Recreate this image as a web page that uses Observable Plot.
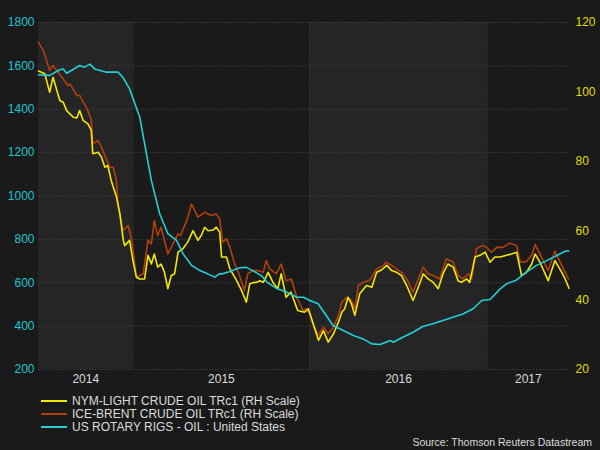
<!DOCTYPE html>
<html><head><meta charset="utf-8">
<script src="https://cdn.jsdelivr.net/npm/d3@7"></script>
<script src="https://cdn.jsdelivr.net/npm/@observablehq/plot@0.6"></script>
<style>
html,body{margin:0;padding:0;background:#1a1a1a;}
body{width:600px;height:450px;overflow:hidden;position:relative;font-family:"Liberation Sans",Arial,sans-serif;}
#legend{position:absolute;left:41px;top:394px;}
.row{height:13px;display:flex;align-items:center;font-size:12px;color:#dcdcdc;white-space:nowrap;}
.sw{width:26px;height:2px;margin-right:5px;}
#source{position:absolute;right:8px;top:436px;font-size:10.5px;color:#dcdcdc;}
</style></head><body>
<div id="chart"></div>
<div id="legend"></div>
<div id="source">Source: Thomson Reuters Datastream</div>
<script>
// ---- data ----
const seriesNames = ["NYM-LIGHT CRUDE OIL TRc1 (RH Scale)", "ICE-BRENT CRUDE OIL TRc1 (RH Scale)", "US ROTARY RIGS - OIL : United States"];
const seriesColors = ["#f2e800", "#b0400e", "#22d0d8"];

const rigDates = ["2014-06-20","2014-07-13","2014-08-03","2014-08-10","2014-08-17","2014-09-13","2014-09-23","2014-10-04","2014-10-14","2014-11-07","2014-12-01","2014-12-11","2014-12-25","2015-01-15","2015-02-08","2015-02-25","2015-03-14","2015-04-01","2015-04-14","2015-05-02","2015-05-19","2015-06-04","2015-06-19","2015-06-28","2015-07-05","2015-07-20","2015-08-09","2015-08-23","2015-09-05","2015-09-23","2015-10-05","2015-10-26","2015-11-15","2015-12-05","2015-12-19","2016-01-01","2016-01-18","2016-02-04","2016-02-18","2016-03-10","2016-03-31","2016-04-20","2016-05-08","2016-05-25","2016-06-15","2016-06-21","2016-07-11","2016-08-01","2016-08-21","2016-09-11","2016-10-02","2016-10-22","2016-11-12","2016-12-03","2016-12-21","2017-01-07","2017-01-28","2017-02-10","2017-03-03","2017-03-23","2017-04-13","2017-05-04","2017-05-25","2017-06-11","2017-06-18"];
const rigCounts = [1559,1556,1582,1586,1566,1602,1594,1608,1586,1571,1571,1548,1494,1363,1071,919,826,795,735,680,656,641,626,641,641,652,669,671,656,633,602,572,556,533,533,518,503,449,403,380,357,341,318,315,334,326,349,372,398,411,426,441,456,480,518,523,572,595,613,649,680,702,726,745,747];

const wtiDates = ["2014-06-20","2014-07-03","2014-07-13","2014-07-20","2014-08-03","2014-08-10","2014-08-17","2014-08-31","2014-09-07","2014-09-13","2014-09-20","2014-09-30","2014-10-07","2014-10-10","2014-10-21","2014-10-28","2014-11-04","2014-11-10","2014-11-17","2014-11-28","2014-12-05","2014-12-12","2014-12-15","2014-12-25","2015-01-01","2015-01-08","2015-01-15","2015-01-25","2015-02-01","2015-02-08","2015-02-14","2015-02-21","2015-02-28","2015-03-07","2015-03-14","2015-03-21","2015-03-28","2015-04-04","2015-04-14","2015-04-24","2015-05-05","2015-05-15","2015-05-22","2015-05-29","2015-06-05","2015-06-15","2015-06-22","2015-06-29","2015-07-03","2015-07-13","2015-07-20","2015-08-03","2015-08-13","2015-08-23","2015-08-30","2015-09-08","2015-09-13","2015-09-20","2015-09-27","2015-10-07","2015-10-17","2015-10-27","2015-11-03","2015-11-13","2015-11-23","2015-12-07","2015-12-21","2015-12-29","2016-01-09","2016-01-19","2016-01-29","2016-02-08","2016-02-19","2016-02-29","2016-03-07","2016-03-13","2016-03-20","2016-03-27","2016-04-03","2016-04-13","2016-04-27","2016-05-08","2016-05-18","2016-05-28","2016-06-08","2016-06-18","2016-06-28","2016-07-08","2016-07-19","2016-08-01","2016-08-12","2016-08-22","2016-09-01","2016-09-12","2016-09-22","2016-10-02","2016-10-12","2016-10-23","2016-11-02","2016-11-09","2016-11-20","2016-11-26","2016-12-07","2016-12-17","2016-12-28","2017-01-07","2017-01-17","2017-01-28","2017-02-10","2017-02-20","2017-03-03","2017-03-13","2017-03-23","2017-04-03","2017-04-10","2017-04-20","2017-05-07","2017-05-21","2017-06-04","2017-06-11","2017-06-19"];
const wtiPrices = [106,105.2,99.9,104.2,97.5,97,94.6,92.7,92.5,94.6,91.8,90.8,88.9,82.2,82.6,81.2,78.3,78.8,74.5,69.7,64.9,57.2,55.7,57.2,51.4,46.6,46.1,46.1,52.9,50.4,53.3,49.5,50.4,48,43.3,47.1,47.6,53.8,54.8,56.7,60,57.2,58.6,61,60,60.2,61,59.6,52.4,52.4,49,45.6,42.8,39.4,44.7,45.1,45.1,45.6,45.1,48,45.1,43.3,47.6,40.8,42.3,37,36.5,37.5,32.7,28.4,31.2,27.9,30.3,33.6,36.5,37.5,40.8,38.9,35.6,41.8,44.2,43.7,48,48.7,50,48.5,48,47.1,44.2,39.9,43.7,47.6,46.1,45.1,43.3,47.6,50.4,49.5,45.6,45.1,46.1,45.1,52.4,52.9,53.8,50.9,52.4,52.4,52.9,53.3,53.8,47.1,48,50.4,53.3,50.9,45.6,51.4,48,46.1,43.4];

const brentDates = ["2014-06-20","2014-06-30","2014-07-13","2014-07-20","2014-08-10","2014-08-20","2014-08-24","2014-09-07","2014-09-13","2014-09-30","2014-10-07","2014-10-10","2014-10-21","2014-10-28","2014-11-07","2014-11-14","2014-11-21","2014-11-28","2014-12-01","2014-12-11","2014-12-22","2014-12-29","2015-01-08","2015-01-22","2015-02-01","2015-02-08","2015-02-14","2015-02-21","2015-02-28","2015-03-14","2015-03-21","2015-04-04","2015-04-09","2015-04-22","2015-05-02","2015-05-15","2015-05-29","2015-06-11","2015-06-22","2015-06-29","2015-07-05","2015-07-13","2015-07-20","2015-07-30","2015-08-09","2015-08-19","2015-08-26","2015-09-05","2015-09-16","2015-09-27","2015-10-03","2015-10-10","2015-10-24","2015-11-03","2015-11-13","2015-11-24","2015-12-05","2015-12-18","2015-12-25","2016-01-01","2016-01-08","2016-01-18","2016-01-29","2016-02-08","2016-02-19","2016-02-29","2016-03-07","2016-03-17","2016-03-27","2016-04-03","2016-04-10","2016-04-20","2016-05-04","2016-05-18","2016-06-01","2016-06-06","2016-06-18","2016-06-28","2016-07-08","2016-07-19","2016-08-01","2016-08-12","2016-08-22","2016-09-01","2016-09-12","2016-09-25","2016-10-09","2016-10-23","2016-11-02","2016-11-12","2016-11-23","2016-11-30","2016-12-10","2016-12-21","2016-12-31","2017-01-10","2017-01-21","2017-02-03","2017-02-17","2017-03-03","2017-03-10","2017-03-23","2017-04-03","2017-04-10","2017-04-20","2017-05-07","2017-05-21","2017-06-04","2017-06-18"];
const brentPrices = [114.3,111.9,106.2,107.6,103.7,101.8,102.3,99,99,94.6,91.8,85,86,84,80.7,78.3,78.3,74.5,67.3,60,61.5,57.7,46.6,47.6,57.2,56.2,62.9,58.6,61,53.3,55.2,59.1,58.6,62.9,67.7,63.9,65.3,64.4,64.8,63.4,56.7,57.7,55.2,50.4,47.1,42.8,47.6,48.5,48.5,48,51.4,49,47.6,50.4,45.6,46.1,40.8,37,37.5,36,33.2,29.8,32.2,30.3,32.2,35.6,39.4,40.8,39.9,37.5,44.2,45.1,45.8,49,50,50.9,50,49,48,46.1,42.3,46.1,49.5,47.6,47.1,46.1,51.9,50.9,47.1,46.1,47.6,46.1,54.8,55.7,55.2,53.8,55.2,55.2,56.4,55.7,50.9,51.1,52.9,56,53.3,48.5,54.1,50,46.1];

const xDomain = ["2014-06-20", "2017-06-20"];
const yearStarts = ["2015-01-01", "2016-01-01", "2017-01-01"];
const bandStarts = ["2014-06-20", "2016-01-01"];
const bandEnds = ["2015-01-01", "2017-01-01"];
const leftTicks = [200, 400, 600, 800, 1000, 1200, 1400, 1600, 1800];
const rightTicks = [20, 40, 60, 80, 100, 120];

// ---- right (price) scale mapped onto the left (rig) scale ----
const L0 = 200, L1 = 1800, R0 = 20, R1 = 120;
const toLeft = r => L0 + (r - R0) * (L1 - L0) / (R1 - R0);
const fromLeft = v => R0 + (v - L0) * (R1 - R0) / (L1 - L0);

const parse = s => new Date(s + "T00:00:00Z");
const rigs = rigDates.map((d, i) => ({date: parse(d), v: rigCounts[i]}));
const wti = wtiDates.map((d, i) => ({date: parse(d), v: toLeft(wtiPrices[i])}));
const brent = brentDates.map((d, i) => ({date: parse(d), v: toLeft(brentPrices[i])}));
const bands = bandStarts.map((s, i) => ({start: parse(s), end: parse(bandEnds[i])}));
const bounds = [xDomain[0], ...yearStarts, xDomain[1]].map(parse);
const labelPos = bounds.slice(1).map((b, i) => new Date((+bounds[i] + +b) / 2));

const axisFont = 12;
const chart = Plot.plot({
  width: 600, height: 390,
  marginLeft: 38, marginRight: 31, marginTop: 22, marginBottom: 21,
  style: {background: "transparent", color: "#dcdcdc", fontFamily: "'Liberation Sans', Arial, sans-serif", fontSize: "12px"},
  x: {type: "utc", domain: xDomain.map(parse)},
  y: {domain: [L0, L1]},
  marks: [
    Plot.rect(bands, {x1: "start", x2: "end", fill: "#252525"}),
    Plot.ruleY(leftTicks, {stroke: "#3c3c3c", strokeDasharray: "1.5,1.5"}),
    Plot.ruleX(yearStarts.map(parse), {stroke: "#3c3c3c", strokeDasharray: "1.5,1.5"}),
    Plot.axisY(leftTicks, {anchor: "left", tickSize: 0, tickPadding: 4, color: "#1fc6cf", fontSize: axisFont, label: null, tickFormat: d => String(d)}),
    Plot.axisY(rightTicks.map(toLeft), {anchor: "right", tickSize: 0, tickPadding: 6, color: "#e2de00", fontSize: axisFont, label: null, tickFormat: v => String(Math.round(fromLeft(v)))}),
    Plot.axisX(labelPos, {tickSize: 0, tickPadding: 5, color: "#dcdcdc", fontSize: axisFont, label: null, tickFormat: d3.utcFormat("%Y")}),
    Plot.lineY(brent, {x: "date", y: "v", stroke: seriesColors[1], strokeWidth: 1.6}),
    Plot.lineY(wti, {x: "date", y: "v", stroke: seriesColors[0], strokeWidth: 1.6}),
    Plot.lineY(rigs, {x: "date", y: "v", stroke: seriesColors[2], strokeWidth: 1.6})
  ]
});
document.getElementById("chart").appendChild(chart);

const legend = document.getElementById("legend");
seriesNames.forEach((n, i) => {
  const row = document.createElement("div");
  row.className = "row";
  const sw = document.createElement("span");
  sw.className = "sw";
  sw.style.background = seriesColors[i];
  const t = document.createElement("span");
  t.textContent = n;
  row.appendChild(sw); row.appendChild(t);
  legend.appendChild(row);
});
</script>
</body></html>
